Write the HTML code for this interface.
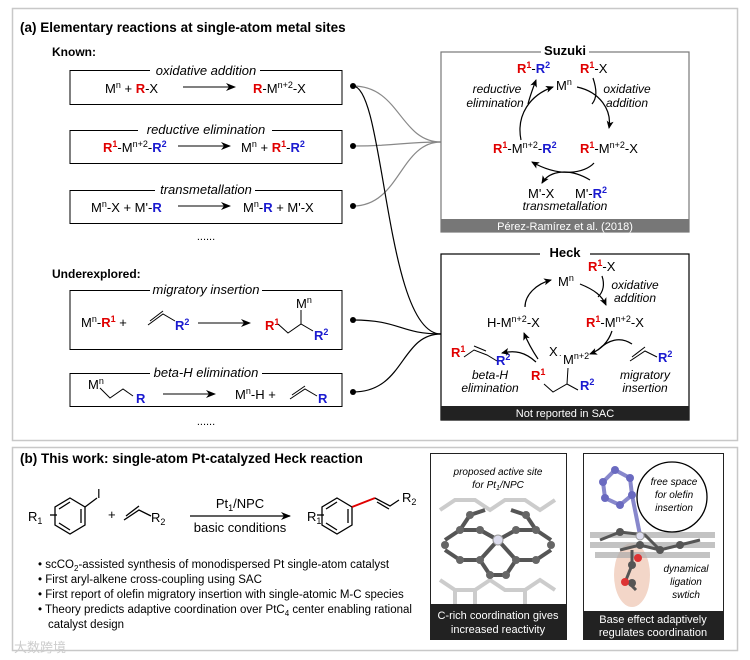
<!DOCTYPE html>
<html><head><meta charset="utf-8"><style>
html,body{margin:0;padding:0;background:#fff;}
svg{display:block;font-family:"Liberation Sans",Arial,sans-serif;}
.r{fill:#e00000;font-weight:bold}.b{fill:#1a1ad0;font-weight:bold}
.i{font-style:italic}
</style></head><body>
<svg width="750" height="660" viewBox="0 0 750 660" xmlns="http://www.w3.org/2000/svg">
<defs>
<marker id="ah" markerWidth="10" markerHeight="8" refX="9" refY="4" orient="auto" markerUnits="userSpaceOnUse"><path d="M0,0 L10,4 L0,8 L3,4z" fill="#000"/></marker>
<marker id="ah2" markerWidth="8" markerHeight="7" refX="7" refY="3.5" orient="auto" markerUnits="userSpaceOnUse"><path d="M0,0 L8,3.5 L0,7 L2,3.5z" fill="#000"/></marker>
</defs>
<rect x="12.5" y="8.5" width="725" height="432" fill="none" stroke="#c8c8c8" stroke-width="1.5"/>
<rect x="12.5" y="447.5" width="725" height="203" fill="none" stroke="#c8c8c8" stroke-width="1.5"/>
<text x="20" y="32" font-size="13.5" font-weight="bold">(a) Elementary reactions at single-atom metal sites</text>
<text x="52" y="56" font-size="12" font-weight="bold">Known:</text>
<g font-size="13" stroke="none">
<rect x="70" y="70.5" width="272" height="34" fill="none" stroke="#000"/>
<rect x="150" y="62" width="110" height="14" fill="#fff"/>
<text x="206" y="75" text-anchor="middle" class="i">oxidative addition</text>
<text x="105" y="93">M<tspan font-size="9" dy="-5">n</tspan><tspan dy="5">  +  </tspan><tspan class="r">R</tspan>-X</text>
<line x1="183" y1="87" x2="235" y2="87" stroke="#000" marker-end="url(#ah)"/>
<text x="253" y="93"><tspan class="r">R</tspan>-M<tspan font-size="9" dy="-5">n+2</tspan><tspan dy="5">-X</tspan></text>

<rect x="70" y="130.5" width="272" height="33" fill="none" stroke="#000"/>
<rect x="138" y="122" width="134" height="14" fill="#fff"/>
<text x="206" y="134" text-anchor="middle" class="i">reductive elimination</text>
<text x="103" y="152"><tspan class="r">R<tspan font-size="9" dy="-5">1</tspan></tspan><tspan dy="5">-M</tspan><tspan font-size="9" dy="-5">n+2</tspan><tspan dy="5">-</tspan><tspan class="b">R<tspan font-size="9" dy="-5">2</tspan></tspan></text>
<line x1="178" y1="146" x2="230" y2="146" stroke="#000" marker-end="url(#ah)"/>
<text x="241" y="152">M<tspan font-size="9" dy="-5">n</tspan><tspan dy="5">  +  </tspan><tspan class="r">R<tspan font-size="9" dy="-5">1</tspan></tspan><tspan dy="5">-</tspan><tspan class="b">R<tspan font-size="9" dy="-5">2</tspan></tspan></text>

<rect x="70" y="190.5" width="272" height="33" fill="none" stroke="#000"/>
<rect x="155" y="182" width="100" height="14" fill="#fff"/>
<text x="206" y="194" text-anchor="middle" class="i">transmetallation</text>
<text x="91" y="212">M<tspan font-size="9" dy="-5">n</tspan><tspan dy="5">-X  +  M'-</tspan><tspan class="b">R</tspan></text>
<line x1="178" y1="206" x2="230" y2="206" stroke="#000" marker-end="url(#ah)"/>
<text x="243" y="212">M<tspan font-size="9" dy="-5">n</tspan><tspan dy="5">-</tspan><tspan class="b">R</tspan>  +  M'-X</text>
<text x="206" y="240" text-anchor="middle" font-size="11">......</text>

<text x="52" y="278" font-size="12" font-weight="bold">Underexplored:</text>
<rect x="70" y="290.5" width="272" height="59" fill="none" stroke="#000"/>
<rect x="150" y="282" width="112" height="14" fill="#fff"/>
<text x="206" y="294" text-anchor="middle" class="i">migratory insertion</text>
<text x="81" y="327">M<tspan font-size="9" dy="-5">n</tspan><tspan dy="5">-</tspan><tspan class="r">R<tspan font-size="9" dy="-5">1</tspan></tspan><tspan dy="5">   +</tspan></text>
<path d="M148,325 L163,314 L175,321 M150,321 L163,311" fill="none" stroke="#000"/>
<text x="175" y="330" class="b">R<tspan font-size="9" dy="-5">2</tspan></text>
<line x1="198" y1="323" x2="250" y2="323" stroke="#000" marker-end="url(#ah)"/>
<text x="265" y="330" class="r">R<tspan font-size="9" dy="-5">1</tspan></text>
<path d="M278,324 L288,333 L301,324 L313,331 M301,324 L301,310" fill="none" stroke="#000"/>
<text x="296" y="308">M<tspan font-size="9" dy="-5">n</tspan></text>
<text x="314" y="340" class="b">R<tspan font-size="9" dy="-5">2</tspan></text>

<rect x="70" y="373.5" width="272" height="33" fill="none" stroke="#000"/>
<rect x="150" y="366" width="112" height="14" fill="#fff"/>
<text x="206" y="377" text-anchor="middle" class="i">beta-H elimination</text>
<text x="88" y="389">M<tspan font-size="9" dy="-5">n</tspan></text>
<path d="M100,388 L110,398 L123,389 L133,396" fill="none" stroke="#000"/>
<text x="136" y="403" class="b">R</text>
<line x1="163" y1="394" x2="215" y2="394" stroke="#000" marker-end="url(#ah)"/>
<text x="235" y="399">M<tspan font-size="9" dy="-5">n</tspan><tspan dy="5">-H  +</tspan></text>
<path d="M290,399 L305,389 L317,396 M292,395 L305,386" fill="none" stroke="#000"/>
<text x="318" y="403" class="b">R</text>
<text x="206" y="425" text-anchor="middle" font-size="11">......</text>
</g>
<!-- connectors -->
<g fill="none" stroke-width="1.2">
<path d="M353,86 C400,86 400,142 441,142" stroke="#888"/>
<path d="M353,146 C400,146 400,142 441,142" stroke="#888"/>
<path d="M353,206 C400,206 400,142 441,142" stroke="#888"/>
<path d="M353,86 C385,86 385,334 441,334" stroke="#000"/>
<path d="M353,320 C400,320 400,334 441,334" stroke="#000"/>
<path d="M353,392 C405,392 400,334 441,334" stroke="#000"/>
</g>
<g fill="#000"><circle cx="353" cy="86" r="3"/><circle cx="353" cy="146" r="3"/><circle cx="353" cy="206" r="3"/><circle cx="353" cy="320" r="3"/><circle cx="353" cy="392" r="3"/></g>

<!-- Suzuki -->
<g font-size="13">
<rect x="441" y="52" width="248" height="180" fill="none" stroke="#777" stroke-width="1.2"/>
<rect x="541" y="44" width="48" height="14" fill="#fff"/>
<text x="565" y="55" text-anchor="middle" font-weight="bold">Suzuki</text>
<rect x="441" y="219" width="248" height="13" fill="#777"/>
<text x="565" y="230" text-anchor="middle" font-size="11" fill="#fff">Pérez-Ramírez et al. (2018)</text>
<text x="556" y="90">M<tspan font-size="9" dy="-5">n</tspan></text>
<text x="580" y="73"><tspan class="r">R<tspan font-size="9" dy="-5">1</tspan></tspan><tspan dy="5">-X</tspan></text>
<text x="517" y="73"><tspan class="r">R<tspan font-size="9" dy="-5">1</tspan></tspan><tspan dy="5">-</tspan><tspan class="b">R<tspan font-size="9" dy="-5">2</tspan></tspan></text>
<text x="497" y="93" text-anchor="middle" font-size="12" class="i">reductive</text>
<text x="495" y="107" text-anchor="middle" font-size="12" class="i">elimination</text>
<text x="627" y="93" text-anchor="middle" font-size="12" class="i">oxidative</text>
<text x="627" y="107" text-anchor="middle" font-size="12" class="i">addition</text>
<text x="493" y="153"><tspan class="r">R<tspan font-size="9" dy="-5">1</tspan></tspan><tspan dy="5">-M</tspan><tspan font-size="9" dy="-5">n+2</tspan><tspan dy="5">-</tspan><tspan class="b">R<tspan font-size="9" dy="-5">2</tspan></tspan></text>
<text x="580" y="153"><tspan class="r">R<tspan font-size="9" dy="-5">1</tspan></tspan><tspan dy="5">-M</tspan><tspan font-size="9" dy="-5">n+2</tspan><tspan dy="5">-X</tspan></text>
<text x="528" y="198">M'-X</text>
<text x="575" y="198">M'-<tspan class="b">R<tspan font-size="9" dy="-5">2</tspan></tspan></text>
<text x="565" y="210" text-anchor="middle" font-size="12" class="i">transmetallation</text>
<g fill="none" stroke="#000" stroke-width="1.2">
<path d="M577,87 C600,92 612,110 609,128" marker-end="url(#ah2)"/>
<path d="M593,78 C597,90 597,98 592,104"/>
<path d="M594,163 C585,173 560,178 532,162" marker-end="url(#ah2)"/>
<path d="M590,180 C570,168 550,170 542,183" marker-end="url(#ah2)"/>
<path d="M521,140 C516,115 530,95 553,87" marker-end="url(#ah2)"/>
<path d="M528,104 C530,96 533,88 536,80" marker-end="url(#ah2)"/>
</g>
</g>

<!-- Heck -->
<g font-size="13">
<rect x="441" y="254" width="248" height="166" fill="none" stroke="#000" stroke-width="1.2"/>
<rect x="540" y="246" width="50" height="14" fill="#fff"/>
<text x="565" y="257" text-anchor="middle" font-weight="bold">Heck</text>
<rect x="441" y="406" width="248" height="14" fill="#222"/>
<text x="565" y="417" text-anchor="middle" font-size="11" fill="#fff">Not reported in SAC</text>
<text x="558" y="286">M<tspan font-size="9" dy="-5">n</tspan></text>
<text x="588" y="271"><tspan class="r">R<tspan font-size="9" dy="-5">1</tspan></tspan><tspan dy="5">-X</tspan></text>
<text x="635" y="289" text-anchor="middle" font-size="12" class="i">oxidative</text>
<text x="635" y="302" text-anchor="middle" font-size="12" class="i">addition</text>
<text x="487" y="327">H-M<tspan font-size="9" dy="-5">n+2</tspan><tspan dy="5">-X</tspan></text>
<text x="586" y="327"><tspan class="r">R<tspan font-size="9" dy="-5">1</tspan></tspan><tspan dy="5">-M</tspan><tspan font-size="9" dy="-5">n+2</tspan><tspan dy="5">-X</tspan></text>
<text x="549" y="356">X</text><text x="559" y="356" font-size="9">.</text>
<text x="563" y="364">M<tspan font-size="9" dy="-5">n+2</tspan></text>
<text x="531" y="380" class="r">R<tspan font-size="9" dy="-5">1</tspan></text>
<path d="M544,384 L553,392 L567,384 L578,390 M567,384 L568,368" fill="none" stroke="#000"/>
<text x="580" y="390" class="b">R<tspan font-size="9" dy="-5">2</tspan></text>
<text x="451" y="357" class="r">R<tspan font-size="9" dy="-5">1</tspan></text>
<path d="M464,357 L474,350 L487,355 L497,361 M474,346 L486,351" fill="none" stroke="#000"/>
<text x="496" y="365" class="b">R<tspan font-size="9" dy="-5">2</tspan></text>
<text x="490" y="379" text-anchor="middle" font-size="12" class="i">beta-H</text>
<text x="490" y="392" text-anchor="middle" font-size="12" class="i">elimination</text>
<path d="M630,361 L645,351 L657,357 M632,357 L645,347" fill="none" stroke="#000"/>
<text x="658" y="362" class="b">R<tspan font-size="9" dy="-5">2</tspan></text>
<text x="645" y="379" text-anchor="middle" font-size="12" class="i">migratory</text>
<text x="645" y="392" text-anchor="middle" font-size="12" class="i">insertion</text>
<g fill="none" stroke="#000" stroke-width="1.2">
<path d="M580,284 C595,290 602,296 606,305" marker-end="url(#ah2)"/>
<path d="M602,276 C605,285 603,292 598,297"/>
<path d="M612,331 C608,343 600,350 590,354" marker-end="url(#ah2)"/>
<path d="M632,344 C620,336 608,340 598,350"/>
<path d="M538,359 C532,350 528,343 524,333" marker-end="url(#ah2)"/>
<path d="M536,362 C525,352 515,350 502,353" marker-end="url(#ah2)"/>
<path d="M525,307 C525,295 536,284 551,280" marker-end="url(#ah2)"/>
</g>
</g>

<!-- Part b -->
<text x="20" y="463" font-size="13.5" font-weight="bold">(b) This work: single-atom Pt-catalyzed Heck reaction</text>
<g font-size="13" fill="none" stroke="#000" stroke-width="1.3">
<polygon points="70,498 85,507 85,525 70,534 55,525 55,507"/>
<path d="M59,509 L70,502 M81,509 L81,523 M59,523 L70,530"/>
<line x1="85" y1="507" x2="97" y2="498"/>
<line x1="50" y1="515" x2="57" y2="515"/>
<path d="M124,520 L139,510 L151,516 M126,516 L139,506"/>
<line x1="190" y1="516" x2="290" y2="516" marker-end="url(#ah)"/>
<polygon points="337,498 352,507 352,525 337,534 322,525 322,507"/>
<path d="M326,509 L337,502 M348,509 L348,523 M326,523 L337,530"/>
<line x1="317" y1="515" x2="324" y2="515"/>
<line x1="352" y1="507" x2="375" y2="498" stroke="#e00000" stroke-width="2"/>
<path d="M375,498 L390,506 L399,500 M377,502 L389,509"/>
</g>
<g font-size="13">
<text x="97" y="498">I</text>
<text x="28" y="521">R<tspan font-size="9" dy="3">1</tspan></text>
<text x="108" y="519">+</text>
<text x="151" y="522">R<tspan font-size="9" dy="3">2</tspan></text>
<text x="240" y="508" text-anchor="middle">Pt<tspan font-size="9" dy="3">1</tspan><tspan dy="-3">/NPC</tspan></text>
<text x="240" y="532" text-anchor="middle">basic conditions</text>
<text x="307" y="521">R<tspan font-size="9" dy="3">1</tspan></text>
<text x="402" y="502">R<tspan font-size="9" dy="3">2</tspan></text>
</g>
<g font-size="11.5">
<text x="38" y="568">• scCO<tspan font-size="8" dy="3">2</tspan><tspan dy="-3">-assisted synthesis of monodispersed Pt single-atom catalyst</tspan></text>
<text x="38" y="583">• First aryl-alkene cross-coupling using SAC</text>
<text x="38" y="598">• First report of olefin migratory insertion with single-atomic M-C species</text>
<text x="38" y="613">• Theory predicts adaptive coordination over PtC<tspan font-size="8" dy="3">4</tspan><tspan dy="-3"> center enabling rational</tspan></text>
<text x="48" y="628">catalyst design</text>
</g>
<text x="14" y="652" font-size="13" fill="#ccc">大数跨境</text>

<!-- image boxes -->
<rect x="430.5" y="453.5" width="136" height="186" fill="#fff" stroke="#222"/>
<text x="498" y="475" text-anchor="middle" font-size="10" class="i">proposed active site</text>
<text x="498" y="488" text-anchor="middle" font-size="10" class="i">for Pt<tspan font-size="7" dy="2">1</tspan><tspan dy="-2">/NPC</tspan></text>
<g stroke="#ccc" stroke-width="4" fill="none">
<path d="M440,510 L455,500 L475,500 L490,510 L505,500 L525,500 L540,510 L555,500"/>
<path d="M440,580 L455,590 L475,590 L490,580 L505,590 L525,590 L540,580 L555,590"/>
<path d="M455,590 L455,605 M525,590 L525,605 M475,590 L475,605"/>
</g>
<g stroke="#555" stroke-width="4" fill="none">
<path d="M445,540 L460,530 L480,530 L498,540 L516,530 L536,530 L551,540"/>
<path d="M445,550 L460,560 L480,560 L498,540 L516,560 L536,560 L551,550"/>
<path d="M460,530 L470,515 M536,530 L526,515 M480,530 L498,540 M480,560 L490,575 L506,575 L516,560 M470,515 L485,510 M526,515 L511,510"/>
</g>
<g fill="#666"><circle cx="460" cy="530" r="4"/><circle cx="480" cy="530" r="4"/><circle cx="516" cy="530" r="4"/><circle cx="536" cy="530" r="4"/><circle cx="460" cy="560" r="4"/><circle cx="480" cy="560" r="4"/><circle cx="516" cy="560" r="4"/><circle cx="536" cy="560" r="4"/><circle cx="490" cy="575" r="4"/><circle cx="506" cy="575" r="4"/><circle cx="470" cy="515" r="4"/><circle cx="526" cy="515" r="4"/><circle cx="445" cy="545" r="4"/><circle cx="551" cy="545" r="4"/></g>
<circle cx="498" cy="540" r="5" fill="#dde" stroke="#999"/>
<rect x="431" y="604" width="135" height="35" fill="#222"/>
<text x="498" y="619" text-anchor="middle" font-size="11" fill="#fff">C-rich coordination gives</text>
<text x="498" y="633" text-anchor="middle" font-size="11" fill="#fff">increased reactivity</text>

<rect x="583.5" y="453.5" width="140" height="186" fill="#fff" stroke="#222"/>
<ellipse cx="632" cy="575" rx="18" ry="32" fill="#f3d6c8"/>
<g stroke="#aaa" stroke-width="6" fill="none" opacity="0.7">
<path d="M590,535 L715,535 M590,545 L715,545 M595,555 L710,555"/>
</g>
<g stroke="#555" stroke-width="3" fill="none">
<path d="M600,540 L620,532 L645,535 L660,550 L680,545 L700,540 M620,550 L640,545 L660,550 M632,550 L632,565 L626,580 L636,590"/>
</g>
<g stroke="#8888cc" stroke-width="4" fill="none"><polygon points="615,470 630,478 632,495 620,505 605,498 603,482"/><path d="M632,495 L640,535"/></g>
<g fill="#6a6ac0"><circle cx="615" cy="470" r="4"/><circle cx="630" cy="478" r="4"/><circle cx="632" cy="495" r="4"/><circle cx="620" cy="505" r="4"/><circle cx="605" cy="498" r="4"/><circle cx="603" cy="482" r="4"/></g>
<g fill="#555"><circle cx="620" cy="532" r="4"/><circle cx="660" cy="550" r="4"/><circle cx="680" cy="545" r="4"/><circle cx="640" cy="545" r="4"/><circle cx="632" cy="565" r="4"/><circle cx="632" cy="583" r="4"/></g>
<circle cx="638" cy="558" r="4" fill="#d33"/><circle cx="625" cy="582" r="4" fill="#d33"/>
<circle cx="640" cy="536" r="4" fill="#dde" stroke="#999"/>
<circle cx="672" cy="497" r="35" fill="#fff" stroke="#000" stroke-width="1.3"/>
<text x="674" y="485" text-anchor="middle" font-size="10" class="i">free space</text>
<text x="674" y="498" text-anchor="middle" font-size="10" class="i">for olefin</text>
<text x="674" y="511" text-anchor="middle" font-size="10" class="i">insertion</text>
<text x="686" y="572" text-anchor="middle" font-size="10" class="i">dynamical</text>
<text x="686" y="585" text-anchor="middle" font-size="10" class="i">ligation</text>
<text x="686" y="598" text-anchor="middle" font-size="10" class="i">swtich</text>
<rect x="584" y="611" width="139" height="28" fill="#222"/>
<text x="653" y="623" text-anchor="middle" font-size="11" fill="#fff">Base effect adaptively</text>
<text x="653" y="636" text-anchor="middle" font-size="11" fill="#fff">regulates coordination</text>
</svg>
</body></html>
